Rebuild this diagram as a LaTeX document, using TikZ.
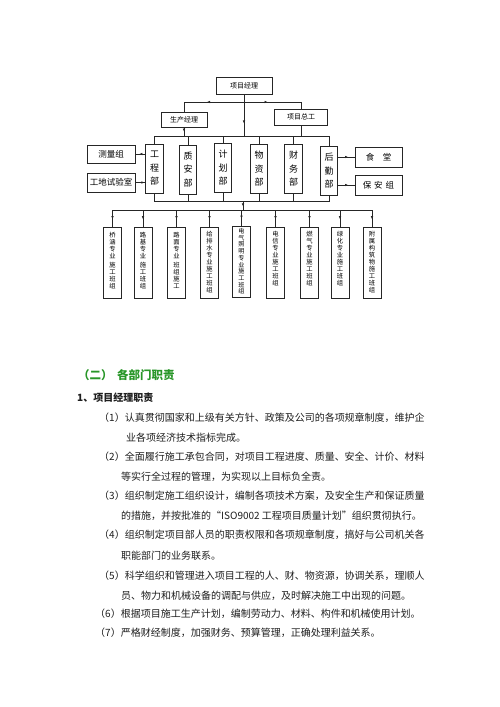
\documentclass[tikz,border=0pt]{standalone}
\usepackage{fontspec}
\setmainfont{Noto Sans CJK SC}
\usetikzlibrary{arrows.meta,decorations.markings}
\definecolor{hgreen}{RGB}{40,150,40}
\definecolor{ink}{RGB}{30,30,30}
\begin{document}
\begin{tikzpicture}[x=1pt,y=-1pt,
  ln/.style={line width=0.6pt, draw=black!85},
  bx/.style={ln, inner sep=0pt, fill=white, align=center},
  topbox/.style={bx, font=\fontsize{7}{8}\selectfont},
  deptbox/.style={bx, minimum width=17.5, minimum height=49, font=\fontsize{9}{13.5}\selectfont},
  sidebox/.style={bx, minimum width=48, font=\fontsize{8.5}{9}\selectfont},
  teambox/.style={bx, minimum width=18, minimum height=71},
  teamtxt/.style={inner sep=0pt, anchor=north, align=center, font=\fontsize{6.3}{7}\selectfont},
  amid/.style={ln, postaction={decorate}, decoration={markings, mark=at position #1 with {\arrow{Latex[length=3pt,width=2.6pt]}}}},
  body/.style={anchor=west, inner sep=0pt, text=ink, font=\fontsize{10}{12}\selectfont},
]
\fill[white] (0,0) rectangle (500,707);
\useasboundingbox (0,0) rectangle (500,707);

% --- top level
\node[topbox, minimum width=56, minimum height=17] (pm) at (244,85.5) {项目经理};
\node[topbox, minimum width=46, minimum height=15] (sm) at (184,119.5) {生产经理};
\node[topbox, minimum width=53, minimum height=16] (tg) at (301,117) {项目总工};

\coordinate (j1) at (244,102);
\coordinate (bus1) at (244,136);
\draw[amid=0.7] (pm.south) -- (bus1);
\draw[amid=0.53] (j1) -| (sm.north);
\draw[amid=0.37] (j1) -| (tg.north);

% --- departments
\node[deptbox] (d1) at (154.5,168.5) {工\\程\\部};
\node[deptbox] (d2) at (188,169.5) {质\\安\\部};
\node[deptbox] (d3) at (223,168) {计\\划\\部};
\node[deptbox] (d4) at (259,169) {物\\资\\部};
\node[deptbox] (d5) at (293.5,169) {财\\务\\部};
\node[deptbox] (d6) at (329,171) {后\\勤\\部};

\draw[amid=0.5] (sm.south) -- (sm.south |- bus1);
\draw[ln] (tg.south) -- (tg.south |- bus1);
\draw[ln] (d1.north) -- (d1.north |- bus1) -- (d6.north |- bus1) -- (d6.north);
\foreach \d in {d2,d3,d4,d5} \draw[ln] (\d.north) -- (\d.north |- bus1);

% --- side boxes
\node[sidebox, minimum height=18] (m1) at (111,154) {测量组};
\node[sidebox, minimum height=19] (m2) at (111,182.5) {工地试验室};
\node[sidebox, minimum width=47, minimum height=20] (m3) at (378.5,157) {食\hspace{8.5pt}堂};
\node[sidebox, minimum width=47, minimum height=20] (m4) at (378.5,185) {保\hspace{3pt}安\hspace{3pt}组};

\draw[amid=0.6] (d1.west |- m1.east) -- (m1.east);
\draw[amid=0.6] (d1.west |- m2.east) -- (m2.east);
\draw[amid=0.6] (d6.east |- m3.west) -- (m3.west);
\draw[amid=0.6] (d6.east |- m4.west) -- (m4.west);

% --- lower bus
\coordinate (bus2) at (243,201);
\coordinate (bus3) at (243,210);
\draw[ln] (d1.south) -- (d1.south |- bus2) -- (d6.south |- bus2) -- (d6.south);
\foreach \d in {d2,d3,d4,d5} \draw[ln] (\d.south) -- (\d.south |- bus2);
\draw[amid=0.6] (bus2) -- (bus3);

% --- teams
\node[teambox] (t1) at (112.5,262.5) {};
\node[teambox] (t2) at (143,262.5) {};
\node[teambox] (t3) at (176.5,262.5) {};
\node[teambox] (t4) at (209.5,262.5) {};
\node[teambox] (t5) at (241.5,261.5) {};
\node[teambox] (t6) at (275.5,262.5) {};
\node[teambox] (t7) at (309.5,262.5) {};
\node[teambox] (t8) at (340,262.5) {};
\node[teambox] (t9) at (372,262.5) {};

\node[teamtxt] at ([yshift=-5pt]t1.north) {桥\\涵\\专\\业\\[2pt]施\\工\\班\\组};
\node[teamtxt] at ([yshift=-5pt]t2.north) {路\\基\\专\\业\\[2pt]施\\工\\班\\组};
\node[teamtxt] at ([yshift=-5pt]t3.north) {路\\面\\专\\业\\[2pt]班\\组\\施\\工};
\node[teamtxt] at ([yshift=-4pt]t4.north) {给\\排\\水\\专\\业\\施\\工\\班\\组};
\node[teamtxt, font=\fontsize{6.1}{6.7}\selectfont] at ([yshift=-2.5pt]t5.north) {电\\气\\照\\明\\专\\业\\施\\工\\班\\组};
\node[teamtxt] at ([yshift=-4pt]t6.north) {电\\信\\专\\业\\施\\工\\班\\组};
\node[teamtxt] at ([yshift=-4pt]t7.north) {燃\\气\\专\\业\\施\\工\\班\\组};
\node[teamtxt] at ([yshift=-4pt]t8.north) {绿\\化\\专\\业\\施\\工\\班\\组};
\node[teamtxt] at ([yshift=-4pt]t9.north) {附\\属\\构\\筑\\物\\施\\工\\班\\组};

\draw[ln] (t1.north |- bus3) -- (t9.north |- bus3);
\foreach \t in {t1,t2,t3,t4,t5,t6,t7,t8,t9} \draw[amid=0.55] (\t.north |- bus3) -- (\t.north);

% --- text section
\node[anchor=west, inner sep=0pt, text=hgreen, font=\fontsize{11.5}{13}\selectfont\bfseries] (h2) at (78,375) {（二）\hspace{4.5pt}各部门职责};
\node[anchor=west, inner sep=0pt, text=ink, font=\fontsize{10}{12}\selectfont\bfseries] (h3) at (77,398) {1、项目经理职责};

\node[body] (p1) at (99,418) {（1）认真贯彻国家和上级有关方针、政策及公司的各项规章制度，维护企};
\node[body] (p1b) at (126,438) {业各项经济技术指标完成。};
\node[body] (p2) at (99,457) {（2）全面履行施工承包合同，对项目工程进度、质量、安全、计价、材料};
\node[body] (p2b) at (121,477) {等实行全过程的管理，为实现以上目标负全责。};
\node[body] (p3) at (99,496) {（3）组织制定施工组织设计，编制各项技术方案，及安全生产和保证质量};
\node[body] (p3b) at (121,516) {的措施，并按批准的“ISO9002 工程项目质量计划”组织贯彻执行。};
\node[body] (p4) at (99,535) {（4）组织制定项目部人员的职责权限和各项规章制度，搞好与公司机关各};
\node[body] (p4b) at (121,556) {职能部门的业务联系。};
\node[body] (p5) at (99,576) {（5）科学组织和管理进入项目工程的人、财、物资源，协调关系，理顺人};
\node[body] (p5b) at (121,596) {员、物力和机械设备的调配与供应，及时解决施工中出现的问题。};
\node[body] (p6) at (95,614) {（6）根据项目施工生产计划，编制劳动力、材料、构件和机械使用计划。};
\node[body] (p7) at (95,633) {（7）严格财经制度，加强财务、预算管理，正确处理利益关系。};
\end{tikzpicture}
\end{document}
